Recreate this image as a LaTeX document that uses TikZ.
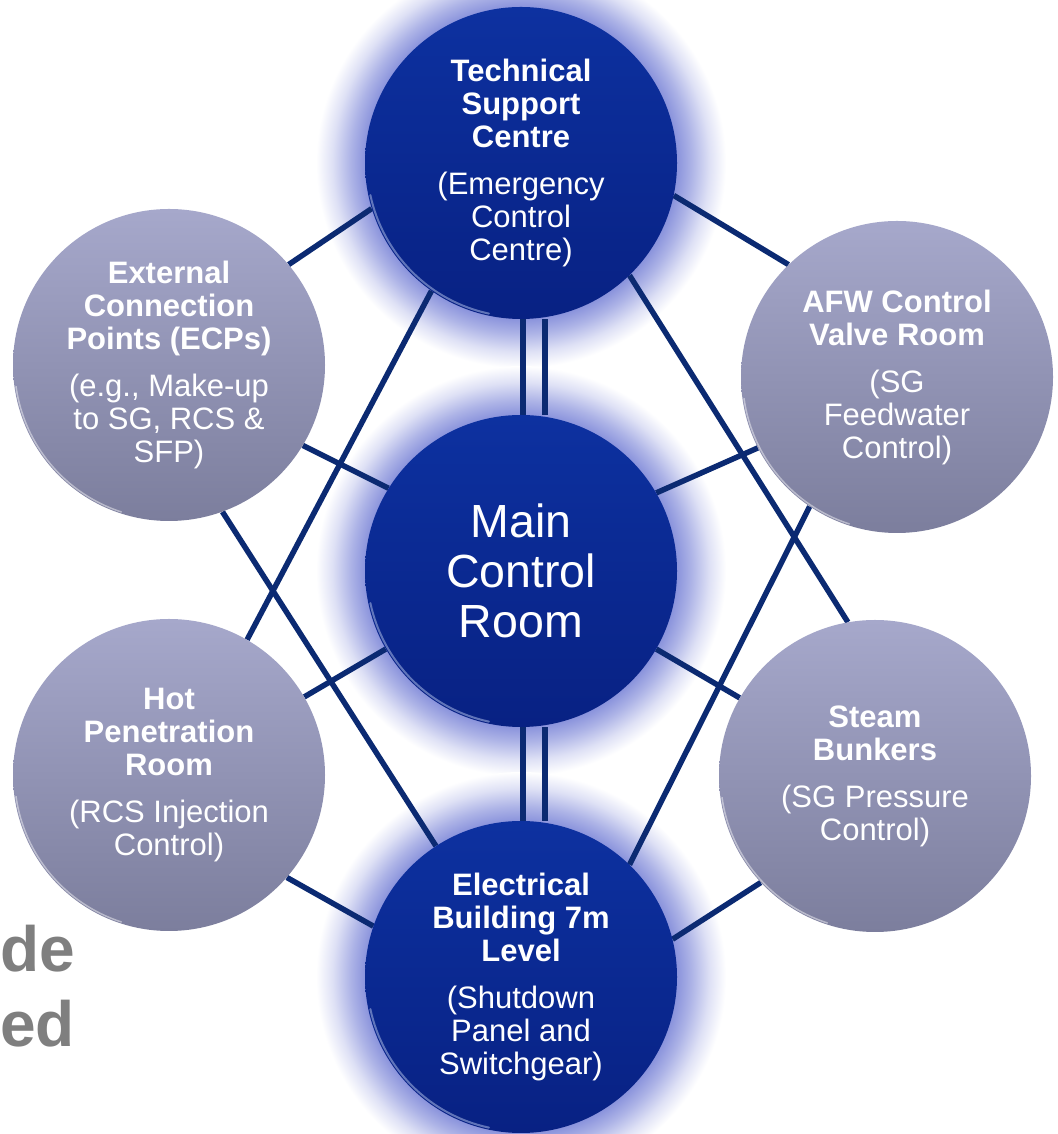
\documentclass[tikz,border=0pt]{standalone}
\usepackage{fontspec}
\setmainfont{Liberation Sans}
\usetikzlibrary{calc}
\definecolor{navy}{HTML}{0B2A72}
\definecolor{royal}{HTML}{0D31A0}
\definecolor{royaldark}{HTML}{082183}
\definecolor{glowblue}{HTML}{8A93DC}
\definecolor{slate}{HTML}{A6A8CB}
\definecolor{slatedark}{HTML}{7C7E9D}
\definecolor{fadegrey}{HTML}{7F7F7F}
\pgfdeclareradialshading{halo}{\pgfpointorigin}{color(0bp)=(glowblue); color(19bp)=(glowblue); color(20.8bp)=(glowblue!70!white); color(23bp)=(glowblue!28!white); color(25bp)=(white); color(50bp)=(white)}
\pgfdeclarelayer{glow}
\pgfdeclarelayer{links}
\pgfsetlayers{glow,links,main}

\begin{document}
\begin{tikzpicture}[x=1pt,y=1pt,line cap=round,
  room/.style={circle,minimum size=312pt,inner sep=0pt,align=center,text=white,
    font=\fontsize{31}{33}\selectfont},
  hub/.style={room,top color=royal,bottom color=royaldark},
  side/.style={room,top color=slate,bottom color=slatedark},
  link/.style={navy,line width=5.5pt,line cap=butt}]
  \path[use as bounding box] (0,0) rectangle (1057,1134);

  \node[anchor=base west,inner sep=0pt,text=fadegrey,font=\fontsize{64}{64}\selectfont\bfseries] (de) at (0,162) {de};
  \node[anchor=base west,inner sep=0pt,text=fadegrey,font=\fontsize{64}{64}\selectfont\bfseries] (ed) at (0,87) {ed};

  \node[hub] (tsc) at (521,971) {\textbf{Technical}\\\textbf{Support}\\\textbf{Centre}\\[14pt](Emergency\\Control\\Centre)};
  \node[hub,font=\fontsize{46.5}{50}\selectfont] (mcr) at (521,563) {Main\\Control\\Room};
  \node[hub] (eb) at (521,157) {\textbf{Electrical}\\\textbf{Building 7m}\\\textbf{Level}\\[14pt](Shutdown\\Panel and\\Switchgear)};
  \node[side] (ecp) at (169,769) {\textbf{External}\\\textbf{Connection}\\\textbf{Points (ECPs)}\\[14pt](e.g., Make-up\\to SG, RCS \&\\SFP)};
  \node[side] (afw) at (897,757) {\textbf{AFW Control}\\\textbf{Valve Room}\\[14pt](SG\\Feedwater\\Control)};
  \node[side] (hpr) at (169,359) {\textbf{Hot}\\\textbf{Penetration}\\\textbf{Room}\\[14pt](RCS Injection\\Control)};
  \node[side] (sb) at (875,358) {\textbf{Steam}\\\textbf{Bunkers}\\[14pt](SG Pressure\\Control)};

  % glossy rim on the lower left of each disc
  \foreach \n in {tsc,mcr,eb}
    \draw[white!50!royal,line width=2pt,opacity=.7] ($(\n.center)+(192:154pt)$) arc[start angle=192,end angle=258,radius=154pt];
  \foreach \n in {ecp,afw,hpr,sb}
    \draw[white,line width=1.5pt,opacity=.45] ($(\n.center)+(188:154.5pt)$) arc[start angle=188,end angle=252,radius=154.5pt];

  \begin{pgfonlayer}{links}
  \foreach \a/\b in {ecp.40/tsc.197,tsc.-12/afw.134,tsc.235/hpr.60,tsc.-46/sb.100,
      ecp.-70/eb.123,afw.236/eb.46,ecp.-31/mcr.148,afw.207/mcr.30,
      hpr.30/mcr.210,sb.150/mcr.-30,hpr.-41/eb.161,sb.223/eb.14}
    \draw[link] (\a) -- (\b);
  \foreach \dx in {2,24} {
    \draw[link] ($(tsc.south)+(\dx,0)$) -- ($(mcr.north)+(\dx,0)$);
    \draw[link] ($(mcr.south)+(\dx,0)$) -- ($(eb.north)+(\dx,0)$);
  }
  \end{pgfonlayer}

  \begin{pgfonlayer}{glow}
  \fill[white] (0,0) rectangle (1057,1134);
  \foreach \n in {tsc,mcr,eb}
    \shade[shading=halo] (\n.center) circle[radius=205pt];
  \end{pgfonlayer}
\end{tikzpicture}
\end{document}
